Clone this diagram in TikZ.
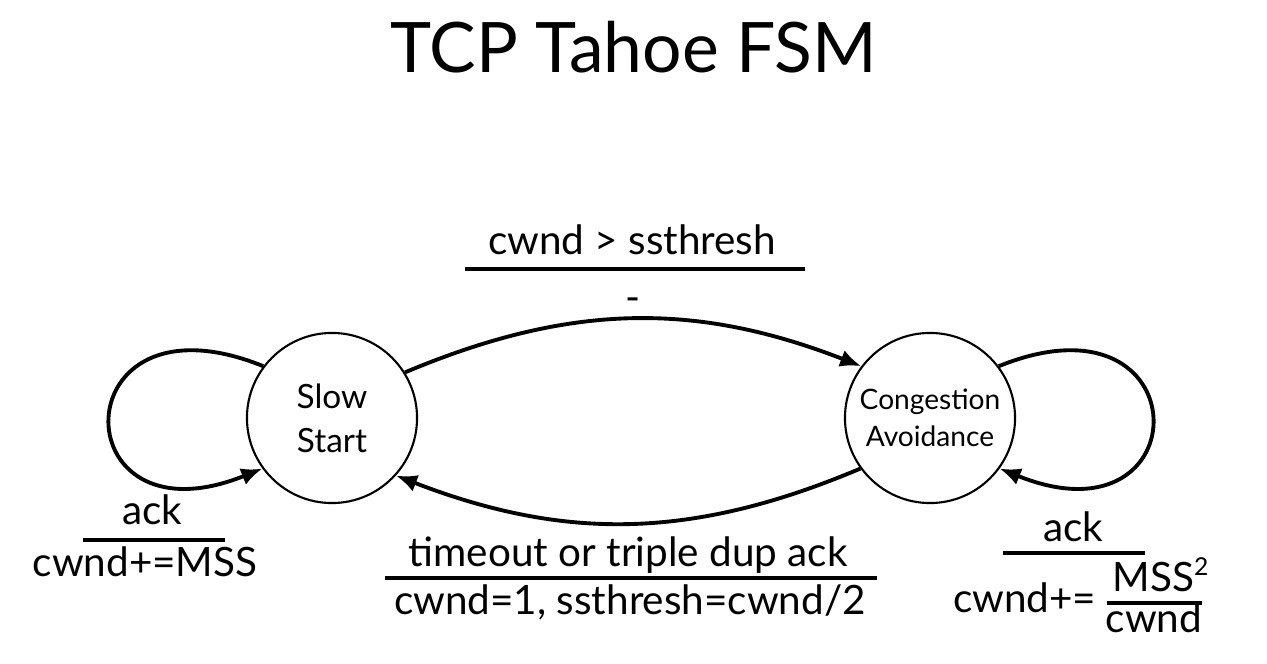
\documentclass[tikz,border=0pt]{standalone}
\usepackage{fontspec}
\setmainfont{Lato}
\usetikzlibrary{arrows.meta}
\tikzset{
  state/.style={draw, circle, line width=0.6pt, minimum size=1.7cm, inner sep=0pt, align=center},
  edge/.style={line width=1.1pt, -{Latex[length=6pt,width=5pt]}},
  bar/.style={line width=0.9pt},
  lbl/.style={anchor=base, inner sep=0pt, font=\fontsize{11.5}{13}\selectfont},
}
\begin{document}
\begin{tikzpicture}[x=0.01cm, y=0.01cm]
  \useasboundingbox (0,0) rectangle (1267,664);
  \node[anchor=base, font=\fontsize{19.8}{24}\selectfont] (title) at (634,591) {TCP Tahoe FSM};

  % states
  \node[state, font=\fontsize{9.5}{12.5}\selectfont] (ss) at (332,246) {Slow\\Start};
  \node[state, font=\fontsize{8}{10.5}\selectfont] (ca) at (930,246) {Congestion\\Avoidance};

  % transitions
  \draw[edge] (ss.32) to[bend left=22] (ca.143);
  \draw[edge] (ca.216) to[bend left=22] (ss.318);
  \draw[edge] (ss.143) .. controls (60,380) and (60,114) .. (ss.216);
  \draw[edge] (ca.37) .. controls (1202,380) and (1202,114) .. (ca.-36);

  % labels
  \node[lbl] (fwdcond) at (632,409) {cwnd > ssthresh};
  \draw[bar] (465,395) -- (805,395);
  \node[lbl] (fwdact) at (633,352) {-};

  \node[lbl] (backcond) at (628,97) {timeout or triple dup ack};
  \draw[bar] (385,86) -- (877,86);
  \node[lbl] (backact) at (630,49) {cwnd=1, ssthresh=cwnd/2};

  \node[lbl] (sscond) at (152,139) {ack};
  \draw[bar] (83,124) -- (225,124);
  \node[lbl] (ssact) at (145,87) {cwnd+=MSS};

  \node[lbl] (cacond) at (1073,122) {ack};
  \draw[bar] (1003,111) -- (1145,111);
  \node[lbl, anchor=base east] (caact) at (1097,51) {cwnd+=};
  \node[lbl, anchor=base west] (mss) at (1112,72) {MSS\raisebox{0.42em}{\fontsize{7}{7}\selectfont 2}};
  \draw[bar] (1107,61) -- (1202,61);
  \node[lbl] (cwnd) at (1154,31) {cwnd};
\end{tikzpicture}
\end{document}
